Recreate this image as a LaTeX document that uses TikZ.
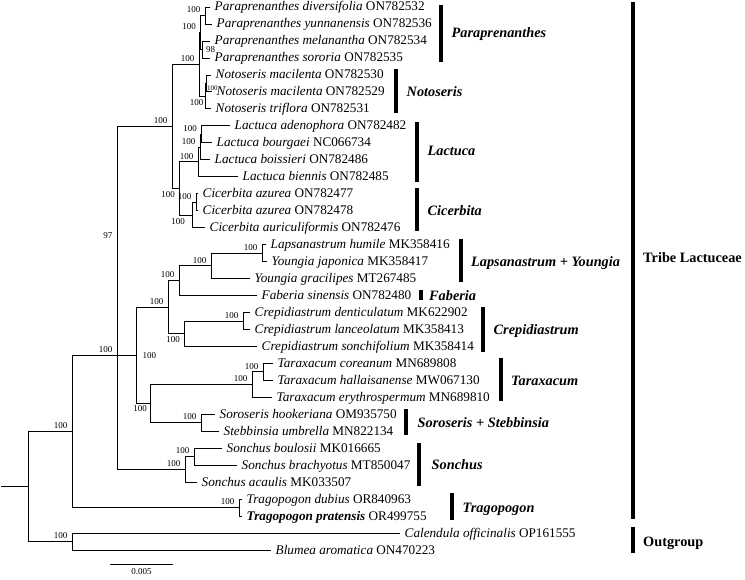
\documentclass[tikz,border=0pt]{standalone}
\usepackage{fontspec}
\setmainfont{Liberation Serif}
\usetikzlibrary{positioning}

\tikzset{
  branch/.style={draw, line width=0.75pt},
  bs/.style={font=\fontsize{9}{9}\selectfont, inner sep=0pt},
  leaf/.style={anchor=west, inner xsep=4.5pt, inner ysep=0pt, text height=8pt, text depth=0pt, font=\fontsize{13.2}{14}\selectfont},
  clade/.style={line width=3.6pt},
  grouplabel/.style={anchor=west, inner sep=0pt, text height=9.5pt, text depth=0pt, font=\fontsize{14.3}{16}\selectfont\bfseries\itshape},
}

\begin{document}
\begin{tikzpicture}[x=1pt, y=-16.97pt] % x in pt, y in leaf rows
		\useasboundingbox (0,-0.4125) rectangle (745,33.707);
		
		%\draw[help lines] (0,0) grid[xstep=50,ystep=1] (745,33); %Hilfsgitter
		
		% inner nodes of the tree (x, row)
		\coordinate (rt)   at (1,28.254);   % root stub
		\coordinate (R)    at (28,28.254);  % root
		\coordinate (O)    at (72,31.5);    % outgroup
		\coordinate (I)    at (72,25.008);  % ingroup
		\coordinate (T)    at (239,29.5);   % Tragopogon
		\coordinate (Y)    at (117,20.516);
		\coordinate (X)    at (117,13.781);
		\coordinate (S)    at (185,27.25);  % Sonchus
		\coordinate (SB)   at (194,26.5);
		\coordinate (PNLC) at (172,7.031);
		\coordinate (PN)   at (199,3.375);
		\coordinate (Pa)   at (200.5,1.5);  % Paraprenanthes
		\coordinate (Pa1)  at (205,0.5);
		\coordinate (Pa2)  at (202,2.5);
		\coordinate (No)   at (205.5,5.25); % Notoseris
		\coordinate (No1)  at (206.5,4.5);
		\coordinate (LC)   at (179,10.688);
		\coordinate (La)   at (198,9.125);  % Lactuca
		\coordinate (La2)  at (200,8.25);
		\coordinate (La1)  at (201.5,7.5);
		\coordinate (Ci)   at (192,12.25);  % Cicerbita
		\coordinate (Ci2)  at (196,11.5);
		\coordinate (Z)    at (136.5,20.531);
		\coordinate (Z1)   at (168,17.688);
		\coordinate (LYF)  at (179,16.125);
		\coordinate (LY)   at (211,15.25);
		\coordinate (LaY)  at (262,14.5);
		\coordinate (Crep) at (184,19.25);  % Crepidiastrum
		\coordinate (Crep1) at (243,18.5);
		\coordinate (Z2)   at (150,23.375);
		\coordinate (Ta)   at (252,22.25);  % Taraxacum
		\coordinate (Ta1)  at (263,21.5);
		\coordinate (SS)   at (201,24.5);   % Soroseris + Stebbinsia
		
		% leaves (row/tip/species/accession)
		\foreach \r/\x/\sp/\acc in {
			0/210/Paraprenanthes diversifolia/ON782532,
			1/212/Paraprenanthes yunnanensis/ON782536,
			2/210/Paraprenanthes melanantha/ON782534,
			3/210/Paraprenanthes sororia/ON782535,
			4/211/Notoseris macilenta/ON782530,
			5/212/Notoseris macilenta/ON782529,
			6/211/Notoseris triflora/ON782531,
			7/230/Lactuca adenophora/ON782482,
			8/212/Lactuca bourgaei/NC066734,
			9/210/Lactuca boissieri/ON782486,
			10/238/Lactuca biennis/ON782485,
			11/198/Cicerbita azurea/ON782477,
			12/198/Cicerbita azurea/ON782478,
			13/205/Cicerbita auriculiformis/ON782476,
			14/266/Lapsanastrum humile/MK358416,
			15/267/Youngia japonica/MK358417,
			16/250/Youngia gracilipes/MT267485,
			17/257/Faberia sinensis/ON782480,
			18/250/Crepidiastrum denticulatum/MK622902,
			19/250/Crepidiastrum lanceolatum/MK358413,
			20/257/Crepidiastrum sonchifolium/MK358414,
			21/273/Taraxacum coreanum/MN689808,
			22/273/Taraxacum hallaisanense/MW067130,
			23/272/Taraxacum erythrospermum/MN689810,
			24/215/Soroseris hookeriana/OM935750,
			25/219/Stebbinsia umbrella/MN822134,
			26/222/Sonchus boulosii/MK016665,
			27/237/Sonchus brachyotus/MT850047,
			28/197/Sonchus acaulis/MK033507,
			29/242/Tragopogon dubius/OR840963,
			31/400/Calendula officinalis/OP161555,
			32/271/Blumea aromatica/ON470223}
			\node[leaf] (l\r) at (\x,\r) {\textit{\sp} \acc};
		\node[leaf] (l30) at (242,30) {\textbf{\textit{Tragopogon pratensis}} OR499755}; % new sequence
		
		% branches
		\draw[branch] (rt) -- (R);
		\foreach \p/\c in {R/I, R/O, O/l31, O/l32, I/Y, I/T, T/l29, T/l30,
			Y/X, Y/S, S/SB, S/l28, SB/l26, SB/l27, X/PNLC, X/Z,
			PNLC/PN, PNLC/LC, PN/Pa, PN/No, Pa/Pa1, Pa/Pa2, Pa1/l0, Pa1/l1, Pa2/l2, Pa2/l3,
			No/No1, No/l6, No1/l4, No1/l5, LC/La, LC/Ci, La/La2, La/l10, La2/La1, La2/l9, La1/l7, La1/l8,
			Ci/Ci2, Ci/l13, Ci2/l11, Ci2/l12, Z/Z1, Z/Z2, Z1/LYF, Z1/Crep, LYF/LY, LYF/l17,
			LY/LaY, LY/l16, LaY/l14, LaY/l15, Crep/Crep1, Crep/l20, Crep1/l18, Crep1/l19,
			Z2/Ta, Z2/SS, Ta/Ta1, Ta/l23, Ta1/l21, Ta1/l22, SS/l24, SS/l25}
			\draw[branch] (\p) |- (\c);
		
		% bootstrap values
		\foreach \n in {I, O, Y, T, S, SB, PNLC, PN, Pa, Pa1, La, La2, La1, Ci2, Z1, LYF, LY, LaY, Crep1, Ta, Ta1, SS}
			\node[bs, above left=2.5pt and 4.5pt of \n] (b\n) {100};
		\node[bs, above left=2.5pt and 4.5pt of X] (bX) {97};
		\node[bs, right=4pt of Pa2] (bPa2) {98};
		\node[bs, right=0.5pt of No1, yshift=-4.5pt, font=\fontsize{7}{7}\selectfont] (bNo1) {100}; % squeezed between the two leaves
		\node[bs, below left=3pt and 2pt of No] (bNo) {100};
		\node[bs, below left=3pt and 4pt of LC] (bLC) {100};
		\node[bs, below left=3pt and 7pt of Ci] (bCi) {100};
		\node[bs, right=6pt of Z] (bZ) {100};
		\node[bs, below left=3pt and 4pt of Crep] (bCrep) {100};
		\node[bs, below left=2pt and 3pt of Z2] (bZ2) {100};
		
		% clade bars
		\draw[clade] (441,-0.12) -- (441,3.24);  \node[grouplabel] (gPara) at (451.5,1.5) {Paraprenanthes};
		\draw[clade] (396,3.65) -- (396,6.25);   \node[grouplabel] (gNoto) at (406.5,5) {Notoseris};
		\draw[clade] (417,6.78) -- (417,10.31);  \node[grouplabel] (gLact) at (427.5,8.5) {Lactuca};
		\draw[clade] (417,10.67) -- (417,13.2);  \node[grouplabel] (gCice) at (427.5,12) {Cicerbita};
		\draw[clade] (461,13.67) -- (461,16.2);  \node[grouplabel] (gLaps) at (471,15) {Lapsanastrum + Youngia};
		\draw[clade] (421,16.68) -- (421,17.27); \node[grouplabel] (gFabe) at (429,17) {Faberia};
		\draw[clade] (483,17.68) -- (483,20.33); \node[grouplabel] (gCrep) at (493.5,19) {Crepidiastrum};
		\draw[clade] (501,20.68) -- (501,23.2);  \node[grouplabel] (gTara) at (511,22) {Taraxacum};
		\draw[clade] (406,23.7) -- (406,25.2);   \node[grouplabel] (gSoro) at (417.5,24.5) {Soroseris + Stebbinsia};
		\draw[clade] (419,25.7) -- (419,28.2);   \node[grouplabel] (gSonc) at (431.5,27) {Sonchus};
		\draw[clade] (452,28.64) -- (452,30.23); \node[grouplabel] (gTrag) at (462.5,29.5) {Tragopogon};
		\draw[clade] (633,-0.3) -- (633,30.17);  \node[grouplabel, font=\fontsize{14.3}{16}\selectfont\bfseries] (gTribe) at (643,14.8) {Tribe Lactuceae};
		\draw[clade] (633,30.64) -- (633,32.2);  \node[grouplabel, font=\fontsize{14.3}{16}\selectfont\bfseries] (gOut) at (643,31.5) {Outgroup};
		
		% scale bar
		\coordinate (sb1) at (110,32.82);
		\coordinate (sb2) at (173,32.82);
		\draw[branch] (sb1) -- (sb2) node[bs, midway, below=4.5pt] (sbl) {0.005};
		
\end{tikzpicture}
\end{document}
